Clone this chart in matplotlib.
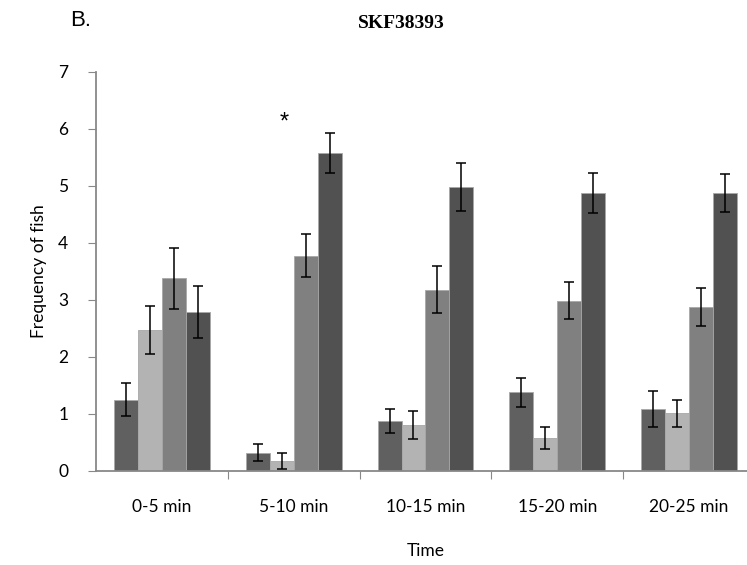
import numpy as np
import matplotlib
matplotlib.use("Agg")
import matplotlib.pyplot as plt

# data
categories = ["0-5 min", "5-10 min", "10-15 min", "15-20 min", "20-25 min"]
s1 = [1.25, 0.32, 0.88, 1.38, 1.09]
s2 = [2.48, 0.18, 0.81, 0.58, 1.01]
s3 = [3.38, 3.78, 3.18, 2.99, 2.88]
s4 = [2.79, 5.58, 4.98, 4.88, 4.88]
e1 = [0.29, 0.15, 0.21, 0.26, 0.31]
e2 = [0.42, 0.14, 0.25, 0.19, 0.23]
e3 = [0.53, 0.37, 0.41, 0.32, 0.33]
e4 = [0.45, 0.35, 0.42, 0.35, 0.33]
star_y = 6.12

colors = ["#606060", "#b3b3b3", "#808080", "#515151"]
series = [s1, s2, s3, s4]
errors = [e1, e2, e3, e4]

plt.rcParams["font.family"] = ["Lato", "DejaVu Sans"]
fig = plt.figure(figsize=(7.47, 5.65), dpi=100)
ax = fig.add_axes([0.1285, 0.1664, 0.8822, 0.7062])

x = np.arange(len(categories))
w = 0.182
for i in range(4):
  ax.bar(x + (i - 1.5) * w, series[i], w, color=colors[i],
         edgecolor="#a8a8a8", linewidth=0.6, zorder=2)
  ax.errorbar(x + (i - 1.5) * w, series[i], yerr=errors[i], fmt="none",
              ecolor="black", elinewidth=1.1, capsize=3.5, capthick=1.1, zorder=3)

ax.text(x[1] - 0.07, star_y, "*", ha="center", va="center", fontsize=17,
        family="Liberation Sans")

ax.set_xlim(-0.5, 4.5)
ax.set_ylim(0, 7)
ax.set_yticks(range(8))
ax.set_xticks(np.arange(0.5, 4.5, 1))
ax.set_xticklabels([])
ax.set_xticks(x, minor=True)
ax.set_xticklabels(categories, minor=True, fontsize=12.5)
ax.tick_params(axis="x", which="minor", length=0, pad=20)
ax.tick_params(axis="x", which="major", length=6, color="#888888", direction="out")
ax.tick_params(axis="y", length=6, color="#888888", labelsize=12.5, pad=14)

for s in ["top", "right"]:
  ax.spines[s].set_visible(False)
for s in ["left", "bottom"]:
  ax.spines[s].set_color("#888888")
  ax.spines[s].set_linewidth(1.3)

ax.set_ylabel("Frequency of fish", fontsize=12.5, labelpad=8)
ax.set_xlabel("Time", fontsize=12.5, labelpad=20)
fig.text(70 / 747, 1 - 21 / 565, "B.", ha="left", va="center", fontsize=16,
         family="Liberation Sans")
fig.text(401 / 747, 1 - 23 / 565, "SKF38393", ha="center", va="center",
         fontsize=14, fontweight="bold", family="Liberation Serif")

fig.savefig("out.png", dpi=100)
